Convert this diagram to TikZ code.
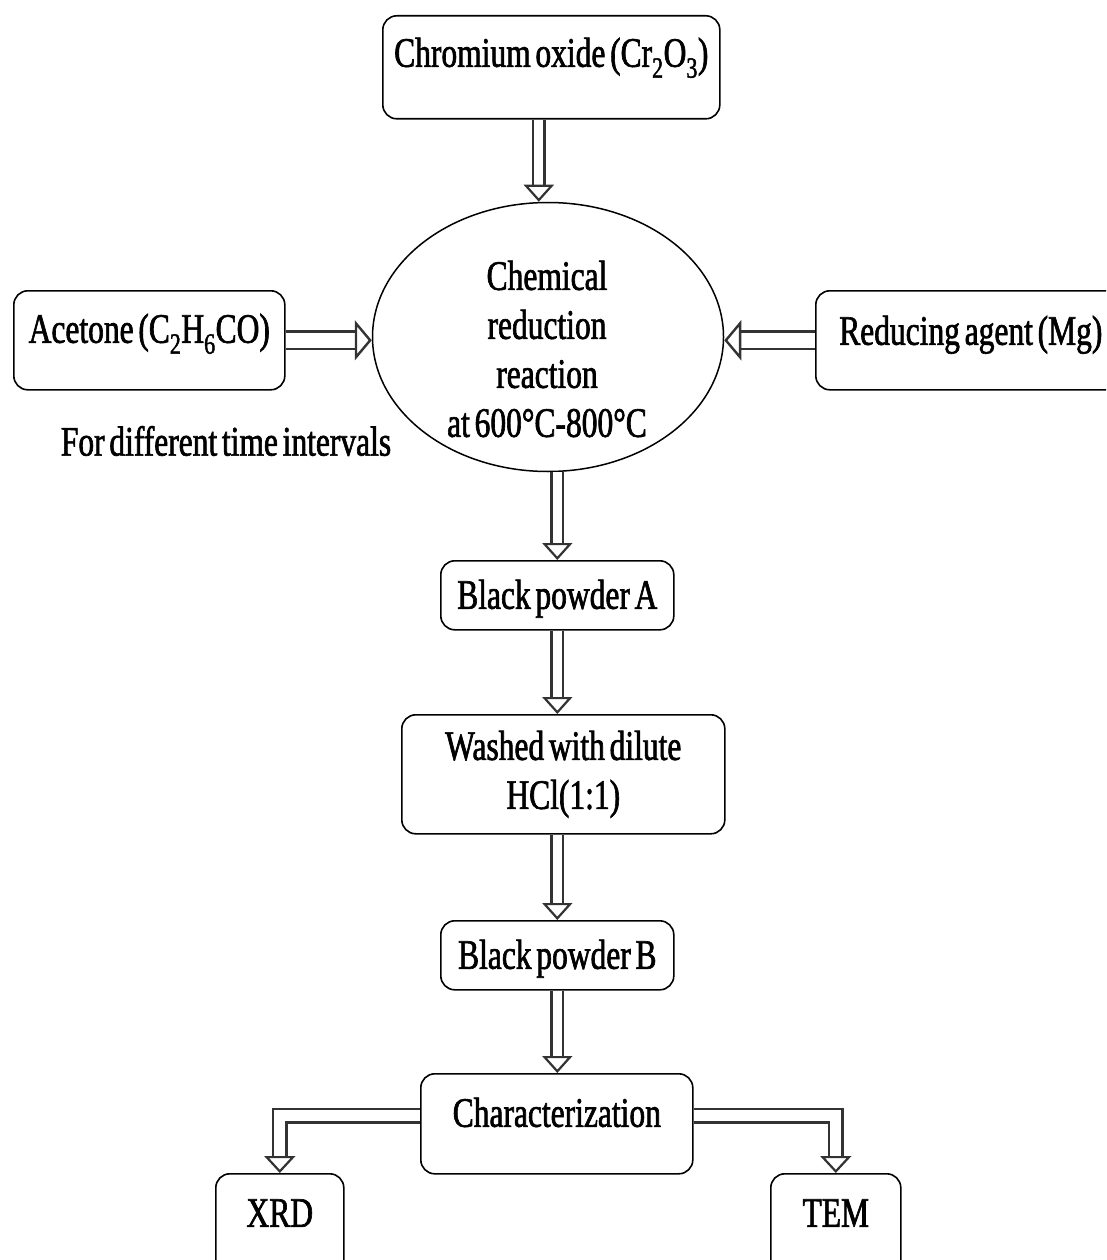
\documentclass[tikz,border=0pt]{standalone}
\usepackage{fontspec}
\setmainfont[FakeStretch=0.75,WordSpace=0.6,FakeBold=1.5]{Liberation Serif}
\usetikzlibrary{shapes.geometric,arrows.meta}
\newcommand\dfont{\fontsize{42}{49}\selectfont}
\begin{document}
\begin{tikzpicture}[x=1pt,y=-1pt,
  box/.style={draw=black, line width=1.6pt, rounded corners=14pt, inner sep=0pt,
    font=\dfont, align=center, anchor=north west},
  vdbl/.style={draw=black!80, line width=2.4pt, double=white, double distance=9pt,
    -{Triangle[length=17pt, width=30pt, fill=white, line width=2.2pt]}},
  hdbl/.style={draw=black!80, line width=2.6pt, double=white, double distance=15pt,
    -{Triangle[length=17pt, width=40pt, fill=white, line width=2.4pt]}},
  edbl/.style={draw=black!80, line width=2.4pt, double=white, double distance=11pt,
    -{Triangle[length=17pt, width=31pt, fill=white, line width=2.2pt]}}]
\useasboundingbox (0,0) rectangle (1106,1260);
\clip (0,0) rectangle (1106,1260);

\node[box, minimum width=337pt, minimum height=103pt, text height=51pt, text depth=52pt]
  (cr) at (382,15) {Chromium oxide (Cr\textsubscript{2}O\textsubscript{3})};
\node[box, minimum width=271pt, minimum height=99pt, text height=52pt, text depth=47pt]
  (ac) at (13,290) {Acetone (C\textsubscript{2}H\textsubscript{6}CO)};
\node[box, minimum width=310pt, minimum height=99pt, text height=54pt, text depth=45pt]
  (rd) at (815,290) {Reducing agent (Mg)};
\node[draw=black, line width=1.5pt, ellipse, minimum width=351pt, minimum height=269pt,
  inner sep=0pt] (ell) at (548,337) {};
\node[font=\dfont, align=center, inner sep=0pt] (elltxt) at (547,349)
  {Chemical\\reduction\\reaction\\at 600°C-800°C};
\node[font=\dfont, inner sep=0pt] (time) at (226,441) {For different time intervals};

\node[box, minimum width=233pt, minimum height=69pt, text height=48pt, text depth=21pt]
  (bpa) at (440,560) {Black powder A};
\node[box, minimum width=323pt, minimum height=119pt]
  (wash) at (401,714) {Washed with dilute\\HCl(1:1)};
\node[box, minimum width=233pt, minimum height=69pt, text height=48pt, text depth=21pt]
  (bpb) at (440,920) {Black powder B};
\node[box, minimum width=272pt, minimum height=100pt, text height=53pt, text depth=47pt]
  (ch) at (420,1073) {Characterization};
\node[box, minimum width=128pt, minimum height=110pt, text height=53pt, text depth=57pt]
  (xrd) at (215,1173) {XRD};
\node[box, minimum width=130pt, minimum height=110pt, text height=53pt, text depth=57pt]
  (tem) at (770,1173) {TEM};

\draw[vdbl] ([xshift=-12.5pt]cr.south) -- ([xshift=-12.5pt]cr.south |- ell.north);
\draw[hdbl] (ac.east) -- (ac.east -| ell.west);
\draw[hdbl] (rd.west) -- (rd.west -| ell.east);
\draw[vdbl] (ell.south -| bpa.north) -- (bpa.north);
\draw[vdbl] (bpa.south) -- (bpa.south |- wash.north);
\draw[vdbl] (wash.south -| bpb.north) -- (bpb.north);
\draw[vdbl] (bpb.south) -- (bpb.south |- ch.north);
\draw[edbl] ([yshift=8pt]ch.west) -| (xrd.north);
\draw[edbl] ([yshift=8pt]ch.east) -| (tem.north);
\end{tikzpicture}
\end{document}
